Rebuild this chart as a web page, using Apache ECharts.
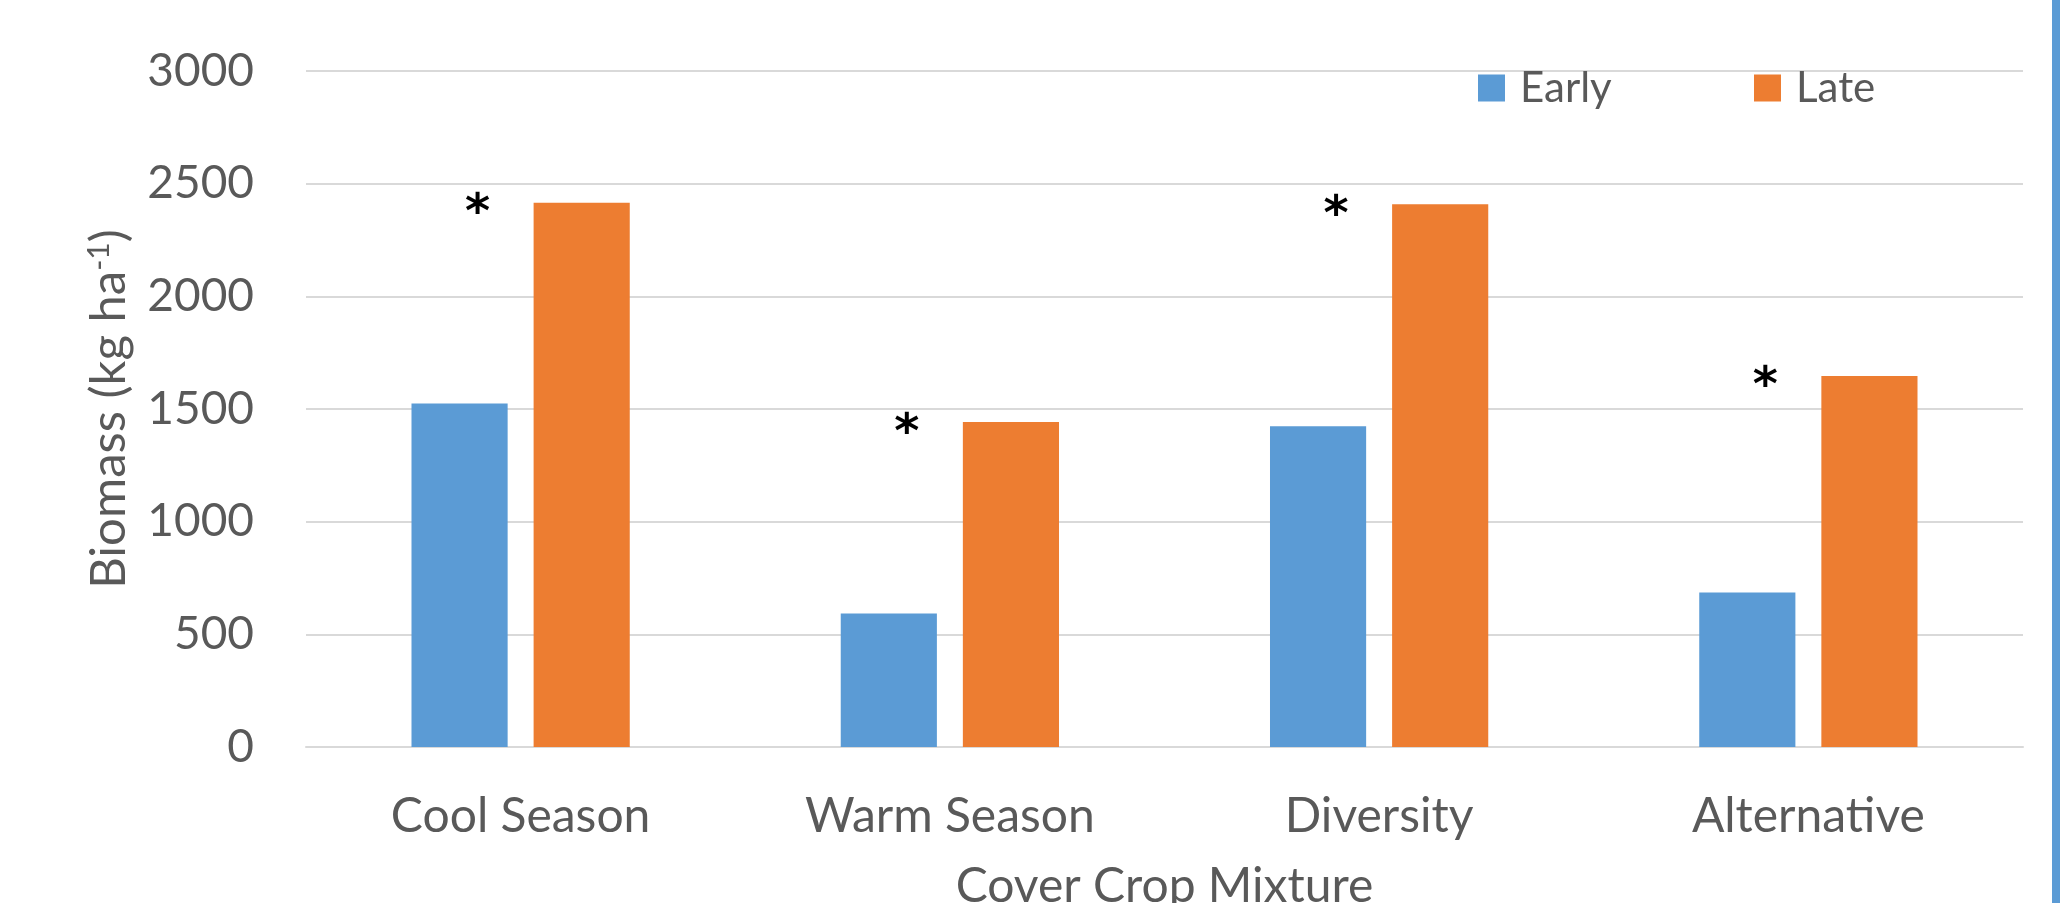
<!doctype html>
<html lang="en">
  <head>
    <meta charset="UTF-8" />
    <title>Cover crop biomass</title>
    <style>
      html,
      body {
        width: 100%;
        height: 100%;
        margin: 0;
        padding: 0;
        background: #fff;
      }
      #Echart {
        width: 2066px;
        height: 903px;
      }
    </style>
  </head>

  <body>
    <div id="Echart"></div>
    <script type="text/javascript" src="https://cdn.jsdelivr.net/npm/echarts@6/dist/echarts.min.js"></script>
    <script type="text/javascript">
      const categories = ['Cool Season', 'Warm Season', 'Diversity', 'Alternative']
      const earlyValues = [1524, 592, 1424, 686]
      const lateValues = [2415, 1442, 2409, 1647]
      // significance marks drawn next to the late bars
      const sigMarks = ['*', '*', '*', '*']
      const yTicks = [0, 500, 1000, 1500, 2000, 2500, 3000]

      const textColor = '#595959'
      const fontFamily = 'Lato'

      let chart = null,
        option = {}

      function initEchart() {
        option = {
          animation: false,
          color: ['#5b9bd5', '#ed7d31'],
          textStyle: { fontFamily: fontFamily },
          legend: [
            {
              data: ['Early'],
              left: 1478,
              top: 67,
              padding: 0,
              icon: 'rect',
              itemWidth: 27,
              itemHeight: 27,
              textStyle: { color: textColor, fontSize: 42, fontFamily: fontFamily, padding: [0, 0, 0, 10] },
            },
            {
              data: ['Late'],
              left: 1754,
              top: 67,
              padding: 0,
              icon: 'rect',
              itemWidth: 27,
              itemHeight: 27,
              textStyle: { color: textColor, fontSize: 42, fontFamily: fontFamily, padding: [0, 0, 0, 10] },
            },
          ],
          grid: {
            left: 306,
            right: 43,
            top: 71,
            bottom: 156,
            containLabel: false,
            outerBoundsMode: 'none',
          },
          xAxis: {
            type: 'category',
            data: categories,
            name: 'Cover Crop Mixture',
            nameLocation: 'middle',
            nameGap: 116,
            nameTextStyle: { color: textColor, fontSize: 48, fontFamily: fontFamily },
            axisLine: { lineStyle: { color: '#d9d9d9', width: 2 } },
            axisTick: { show: false },
            axisLabel: { color: textColor, fontSize: 48, margin: 46, fontFamily: fontFamily },
          },
          yAxis: {
            type: 'value',
            min: yTicks[0],
            max: yTicks[yTicks.length - 1],
            interval: yTicks[1] - yTicks[0],
            name: '{a|Biomass (kg ha}{s|-1}{a|)}',
            nameLocation: 'middle',
            nameGap: 172,
            nameTextStyle: {
              rich: {
                a: { color: textColor, fontSize: 49, fontFamily: fontFamily },
                s: { color: textColor, fontSize: 30, fontFamily: fontFamily, verticalAlign: 'top', padding: [0, 0, 20, 0] },
              },
            },
            axisLine: { show: false },
            axisTick: { show: false },
            axisLabel: {
              color: textColor,
              fontSize: 46,
              margin: 52,
              fontFamily: fontFamily,
              formatter: (v) => String(v),
            },
            splitLine: { lineStyle: { color: '#d9d9d9', width: 2 } },
          },
          series: [
            {
              name: 'Early',
              type: 'bar',
              data: earlyValues,
              barWidth: '22.4%',
              barGap: '27%',
            },
            {
              name: 'Late',
              type: 'bar',
              data: lateValues,
              barWidth: '22.4%',
              label: {
                show: true,
                position: [-56, 12],
                align: 'center',
                verticalAlign: 'middle',
                formatter: (p) => sigMarks[p.dataIndex],
                color: '#000',
                fontSize: 48,
                fontWeight: 'bold',
                fontFamily: 'DejaVu Sans',
              },
            },
          ],
          graphic: [
            {
              type: 'rect',
              right: 6,
              top: 0,
              shape: { width: 8, height: 903 },
              style: { fill: '#5b9bd5' },
            },
          ],
        }
        chart = echarts.init(document.getElementById('Echart'))
        chart.setOption(option)
      }

      window.onload = function () {
        initEchart()
      }
    </script>
  </body>
</html>
